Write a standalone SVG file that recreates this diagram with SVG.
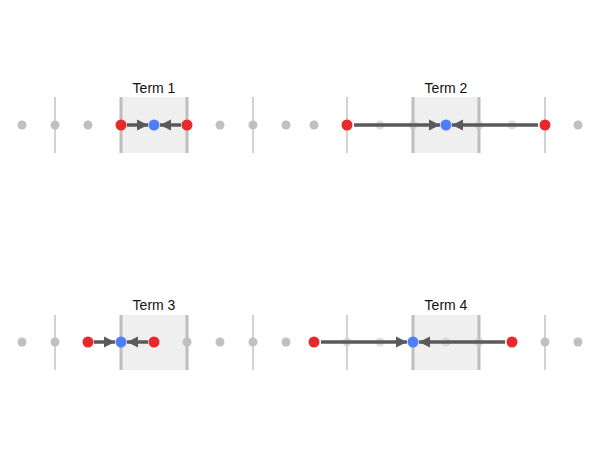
<svg xmlns="http://www.w3.org/2000/svg" width="600" height="450" viewBox="0 0 600 450">
<defs>
<style>
.box{fill:#efefef;}
.edge{stroke:#bdbdbd;stroke-width:3;}
.tick{stroke:#d2d2d2;stroke-width:2;}
.dot{fill:#c0c0c0;}
.faint{fill:#c8c8c8;opacity:0.6;}
.red{fill:#e8282b;}
.blue{fill:#4f7ff7;}
.arr{stroke:#5a5a5a;stroke-width:3.5;fill:none;marker-end:url(#ah);}
.lbl{font-family:"Liberation Sans",Arial,sans-serif;font-size:14px;fill:#111;text-anchor:middle;}
</style>
<marker id="ah" viewBox="0 0 10 10" refX="10" refY="5" markerWidth="3.2" markerHeight="3.2" orient="auto" markerUnits="strokeWidth">
<path d="M0,0 L10,5 L0,10 z" fill="#5a5a5a"/>
</marker>
</defs>
<rect width="600" height="450" fill="#fff"/>

<g id="term1">
<rect class="box" x="121" y="97" width="66" height="56"/>
<line class="edge" x1="121" y1="97" x2="121" y2="153"/>
<line class="edge" x1="187" y1="97" x2="187" y2="153"/>
<line class="tick" x1="55" y1="97" x2="55" y2="153"/>
<line class="tick" x1="253" y1="97" x2="253" y2="153"/>
<text class="lbl" x="154" y="93">Term 1</text>
<circle class="dot" cx="22" cy="125" r="4.5"/>
<circle class="dot" cx="55" cy="125" r="4.5"/>
<circle class="dot" cx="88" cy="125" r="4.5"/>
<circle class="dot" cx="220" cy="125" r="4.5"/>
<circle class="dot" cx="253" cy="125" r="4.5"/>
<circle class="dot" cx="286" cy="125" r="4.5"/>
</g>

<g id="term2">
<rect class="box" x="413" y="97" width="66" height="56"/>
<line class="edge" x1="413" y1="97" x2="413" y2="153"/>
<line class="edge" x1="479" y1="97" x2="479" y2="153"/>
<line class="tick" x1="347" y1="97" x2="347" y2="153"/>
<line class="tick" x1="545" y1="97" x2="545" y2="153"/>
<text class="lbl" x="446" y="93">Term 2</text>
<circle class="dot" cx="314" cy="125" r="4.5"/>
<circle class="faint" cx="380" cy="125" r="4.5"/>
<circle class="faint" cx="413" cy="125" r="4.5"/>
<circle class="faint" cx="479" cy="125" r="4.5"/>
<circle class="faint" cx="512" cy="125" r="4.5"/>
<circle class="dot" cx="578" cy="125" r="4.5"/>
</g>

<g id="term3">
<rect class="box" x="121" y="315" width="66" height="55"/>
<line class="edge" x1="121" y1="315" x2="121" y2="370"/>
<line class="edge" x1="187" y1="315" x2="187" y2="370"/>
<line class="tick" x1="55" y1="315" x2="55" y2="370"/>
<line class="tick" x1="253" y1="315" x2="253" y2="370"/>
<text class="lbl" x="154" y="310">Term 3</text>
<circle class="dot" cx="22" cy="342" r="4.5"/>
<circle class="dot" cx="55" cy="342" r="4.5"/>
<circle class="dot" cx="187" cy="342" r="4.5"/>
<circle class="dot" cx="220" cy="342" r="4.5"/>
<circle class="dot" cx="253" cy="342" r="4.5"/>
<circle class="dot" cx="286" cy="342" r="4.5"/>
</g>

<g id="term4">
<rect class="box" x="413" y="315" width="66" height="55"/>
<line class="edge" x1="413" y1="315" x2="413" y2="370"/>
<line class="edge" x1="479" y1="315" x2="479" y2="370"/>
<line class="tick" x1="347" y1="315" x2="347" y2="370"/>
<line class="tick" x1="545" y1="315" x2="545" y2="370"/>
<text class="lbl" x="446" y="310">Term 4</text>
<circle class="faint" cx="347" cy="342" r="4.5"/>
<circle class="faint" cx="380" cy="342" r="4.5"/>
<circle class="faint" cx="446" cy="342" r="4.5"/>
<circle class="faint" cx="479" cy="342" r="4.5"/>
<circle class="dot" cx="545" cy="342" r="4.5"/>
<circle class="dot" cx="578" cy="342" r="4.5"/>
</g>

<g id="connectors">
<line class="arr" x1="127" y1="125" x2="148" y2="125"/>
<line class="arr" x1="181" y1="125" x2="160" y2="125"/>
<line class="arr" x1="354" y1="125" x2="440" y2="125"/>
<line class="arr" x1="538" y1="125" x2="452" y2="125"/>
<line class="arr" x1="94" y1="342" x2="115" y2="342"/>
<line class="arr" x1="148" y1="342" x2="127" y2="342"/>
<line class="arr" x1="321" y1="342" x2="407" y2="342"/>
<line class="arr" x1="505" y1="342" x2="419" y2="342"/>
</g>

<g id="points">
<circle class="red" cx="121" cy="125" r="5.5"/>
<circle class="blue" cx="154" cy="125" r="5.5"/>
<circle class="red" cx="187" cy="125" r="5.5"/>
<circle class="red" cx="347" cy="125" r="5.5"/>
<circle class="blue" cx="446" cy="125" r="5.5"/>
<circle class="red" cx="545" cy="125" r="5.5"/>
<circle class="red" cx="88" cy="342" r="5.5"/>
<circle class="blue" cx="121" cy="342" r="5.5"/>
<circle class="red" cx="154" cy="342" r="5.5"/>
<circle class="red" cx="314" cy="342" r="5.5"/>
<circle class="blue" cx="413" cy="342" r="5.5"/>
<circle class="red" cx="512" cy="342" r="5.5"/>
</g>
</svg>
